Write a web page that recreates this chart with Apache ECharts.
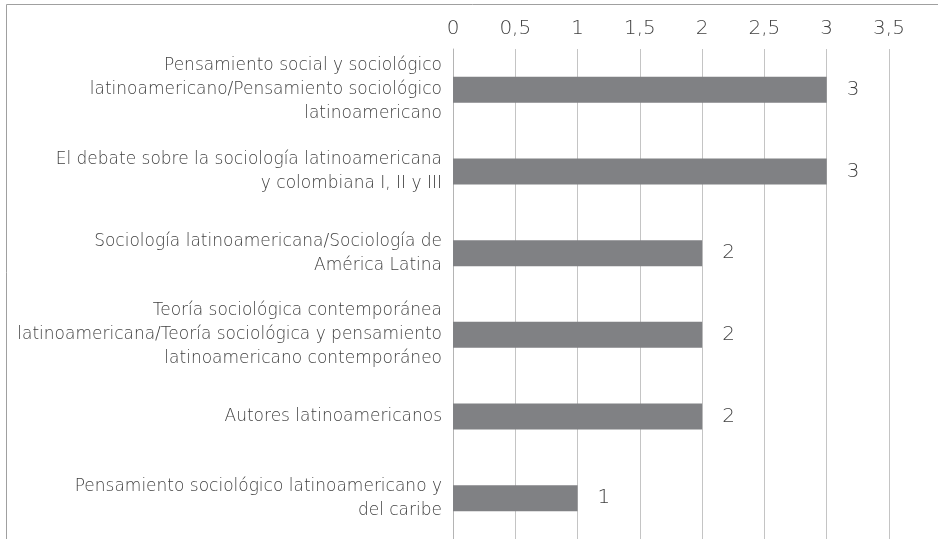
<!DOCTYPE html>
<html lang="es">

<head>
    <meta charset="utf-8">
    <title>Cursos de pensamiento latinoamericano</title>
    <style>
        html, body {
            margin: 0;
            padding: 0;
            background-color: white;
        }
    </style>
</head>

<body>
    <div id="chart" style="width: 938px; height: 539px"></div>
    <script src="https://cdn.jsdelivr.net/npm/echarts@6/dist/echarts.min.js"></script>
    <script>
        // categories top to bottom, as printed in the picture
        var courses = [
            "Pensamiento social y sociológico\nlatinoamericano/Pensamiento sociológico\nlatinoamericano",
            "El debate sobre la sociología latinoamericana\ny colombiana I, II y III",
            "Sociología latinoamericana/Sociología de\nAmérica Latina",
            "Teoría sociológica contemporánea\nlatinoamericana/Teoría sociológica y pensamiento\nlatinoamericano contemporáneo",
            "Autores latinoamericanos",
            "Pensamiento sociológico latinoamericano y\ndel caribe"
        ];
        var counts = [3, 3, 2, 2, 2, 1];
        var textColor = "#3f3f3f";
        var fontName = "DejaVu Sans";

        var chart = echarts.init(document.getElementById("chart"), null, { renderer: "canvas" });

        chart.setOption({
            animation: false,
            graphic: [{
                type: "polyline",
                shape: { points: [[6.5, 545], [6.5, 4.5], [945, 4.5]] },
                style: { stroke: "#a0a0a0", lineWidth: 1, fill: null }
            }],
            grid: {
                left: 453,
                right: 49,
                top: 49,
                bottom: -1,
                containLabel: false
            },
            xAxis: {
                type: "value",
                position: "top",
                min: 0,
                max: 3.5,
                interval: 0.5,
                axisLine: { show: false },
                axisTick: { show: false },
                splitLine: { show: true, lineStyle: { color: "#c4c4c4", width: 1 } },
                axisLabel: {
                    color: textColor,
                    fontFamily: fontName,
                    fontWeight: 200,
                    fontSize: 20,
                    margin: 10,
                    formatter: function (v) { return String(v).replace(".", ","); }
                }
            },
            yAxis: {
                type: "category",
                inverse: true,
                data: courses,
                axisLine: { show: true, lineStyle: { color: "#b4b4b4" } },
                axisTick: { show: false },
                axisLabel: {
                    color: textColor,
                    fontFamily: fontName,
                    fontWeight: 200,
                    fontSize: 17,
                    lineHeight: 24,
                    align: "right",
                    margin: 11
                }
            },
            series: [{
                type: "bar",
                data: counts,
                barWidth: 26,
                itemStyle: { color: "#808184" },
                label: {
                    show: true,
                    position: "right",
                    distance: 20,
                    color: textColor,
                    fontFamily: fontName,
                    fontWeight: 200,
                    fontSize: 20
                }
            }]
        });
    </script>
</body>

</html>
